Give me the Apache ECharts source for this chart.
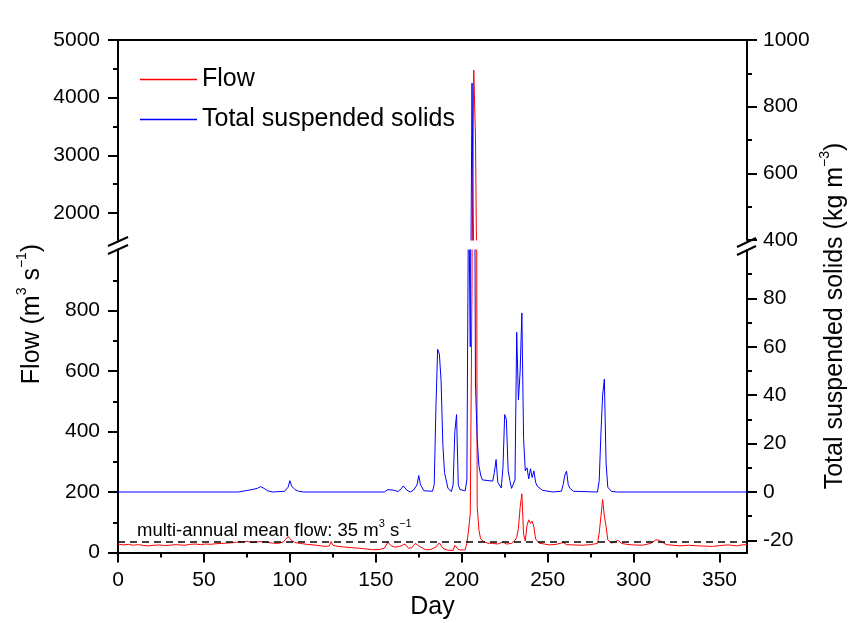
<!DOCTYPE html>
<html><head><meta charset="utf-8">
<script src="https://cdn.jsdelivr.net/npm/echarts@6/dist/echarts.min.js"></script>
<style>html,body{margin:0;padding:0;background:#fff}#c{width:852px;height:623px}</style>
</head><body><div id="c"></div>
<script>
// ---- data ----
const dayTicks = [0, 50, 100, 150, 200, 250, 300, 350];
const dayMinorTicks = [25, 75, 125, 175, 225, 275, 325];
const flowTicksLow = [0, 200, 400, 600, 800];
const flowMinorLow = [100, 300, 500, 700, 900];
const flowTicksHigh = [2000, 3000, 4000, 5000];
const flowMinorHigh = [2500, 3500, 4500];
const tssTicksLow = [-20, 0, 20, 40, 60, 80];
const tssMinorLow = [-10, 10, 30, 50, 70, 90];
const tssTicksHigh = [400, 600, 800, 1000];
const tssMinorHigh = [500, 700, 900];
const meanFlow = 35;

const flowDays = [0,3,6,9,12,15,18,21,24,27,30,33,36,39,42,45,48,51,54,57,60,63,66,69,72,75,78,81,84,87,90,93,96,99,101,103,106,110,114,118,121,123,124,125,128,132,136,140,144,148,152,155,157,159,161,164,167,169,171,173,175,177,179,182,185,187,189,191,193,195,196,198,200,202,203,204,205,206,207,208,209,210,211,213,215,218,221,224,226,229,231,232,233,234,235,236,237,238,239,240,241,242,243,245,248,251,255,259,261,265,270,275,279,280,281,282,283,284,285,287,289,291,293,296,300,305,310,313,315,317,319,323,327,332,337,342,346,350,355,360,363,366];
const flowValues = [28,25,27,24,26,23,22,24,25,23,24,26,25,24,27,28,26,28,27,29,30,31,32,34,35,37,33,35,36,33,31,30,34,53,40,33,30,27,25,22,20,22,36,24,20,18,16,14,12,9,10,14,34,22,18,20,28,14,16,30,22,15,9,10,18,32,14,9,7,7,24,10,8,9,30,75,130,900,4480,3330,155,75,45,35,31,30,28,35,28,30,40,50,80,150,194,60,38,90,108,96,104,85,45,31,28,25,27,33,26,25,24,26,30,64,119,175,120,86,42,31,35,40,30,27,25,24,30,42,40,33,26,24,22,24,22,21,20,23,25,22,25,26];

const tssDays = [0,70,74,78,81,83,84,85,87,90,97,99,100,101,103,105,108,155,157,158,160,163,165,166,168,170,172,174,175,176,178,183,184,185,186,187,188,189,190,192,194,195,196,197,198,199,202,203,204,205,206,207,208,209,210,211,212,218,219,220,221,223,224,225,226,227,228,229,230,231,232,233,234,235,236,237,238,239,240,241,242,243,244,247,253,258,259,260,261,262,263,265,279,280,281,282,283,284,285,287,290,366];
const tssValues = [0,0,0.5,1,1.5,2.2,2.7,1.5,0.5,0,0.3,2,4.7,2.5,1,0.3,0,0,1,1.5,0.8,0.2,1.5,2.5,0.8,0,0.8,3,6.8,3,0.5,0.3,3,35,59,57,46,20,8,1.5,0.2,3,25,32,3,1,0.5,5,130,60,871,250,45,22,11,7,5,4.5,8,13.4,4,1.7,10,32,30,9,4.8,1.5,0.7,5,66,38,50,74,22,8.7,10,5.4,9.6,6,8.7,4,2.4,0.7,0,0.3,3,7,8.6,3,1.5,0.3,0,4.6,24,40,46.7,12,2,0.3,0,0];

// ---- chart ----
const F = "'Liberation Sans', Arial, sans-serif";
const flowData = flowDays.map((d, i) => [d, flowValues[i]]);
const tssData = tssDays.map((d, i) => [d, tssValues[i]]);
const BLACK = '#000';
const RED = '#ff0000';
const BLUE = '#0000ff';
const plain = v => String(v);

function yAx(grid, pos, min, max, vals, minor) {
  return {
    type: 'value', gridIndex: grid, position: pos, min: min, max: max,
    axisLine: { show: !minor, onZero: false, lineStyle: { color: BLACK, width: 2 } },
    axisTick: { show: true, inside: false, length: minor ? 5 : 10, customValues: vals,
                lineStyle: { color: BLACK, width: 2 } },
    axisLabel: minor ? { show: false } : { show: true, customValues: vals, formatter: plain,
                margin: pos === 'left' ? 18 : 16, fontSize: 21, fontFamily: F, color: BLACK },
    splitLine: { show: false }
  };
}

const chart = echarts.init(document.getElementById('c'), null, { renderer: 'canvas' });
const sup = { fontSize: 14, fontFamily: F, fill: BLACK, verticalAlign: 'top', lineHeight: 14 };
const norm = { fontSize: 25, fontFamily: F, fill: BLACK, verticalAlign: 'bottom', lineHeight: 30 };
chart.setOption({
  animation: false,
  backgroundColor: '#fff',
  grid: [
    { left: 118, right: 105, top: 40, height: 200 },
    { left: 118, right: 105, top: 250, height: 302.5 }
  ],
  legend: {
    orient: 'vertical', left: 135, top: 62, itemWidth: 57, itemHeight: 1.5, itemGap: 15,
    textStyle: { fontSize: 25, fontFamily: F, color: BLACK },
    data: [
      { name: 'Flow', icon: 'rect', itemStyle: { color: RED } },
      { name: 'Total suspended solids', icon: 'rect', itemStyle: { color: BLUE } }
    ]
  },
  xAxis: [
    { type: 'value', gridIndex: 0, position: 'top', min: 0, max: 366,
      axisLine: { show: true, onZero: false, lineStyle: { color: BLACK, width: 2 } },
      axisTick: { show: false }, axisLabel: { show: false }, splitLine: { show: false } },
    { type: 'value', gridIndex: 1, position: 'bottom', min: 0, max: 366,
      name: 'Day', nameLocation: 'middle', nameGap: 42,
      nameTextStyle: { fontSize: 25, fontFamily: F, color: BLACK },
      axisLine: { show: true, onZero: false, lineStyle: { color: BLACK, width: 2 } },
      axisTick: { show: true, length: 10, customValues: dayTicks, lineStyle: { color: BLACK, width: 2 } },
      axisLabel: { show: true, customValues: dayTicks, formatter: plain, margin: 17, fontSize: 21, fontFamily: F, color: BLACK },
      splitLine: { show: false } },
    { type: 'value', gridIndex: 1, position: 'bottom', min: 0, max: 366,
      axisLine: { show: false, onZero: false },
      axisTick: { show: true, length: 5, customValues: dayMinorTicks, lineStyle: { color: BLACK, width: 2 } },
      axisLabel: { show: false }, splitLine: { show: false } }
  ],
  yAxis: [
    yAx(0, 'left', 1530, 5000, flowTicksHigh, false),
    yAx(0, 'left', 1530, 5000, flowMinorHigh, true),
    yAx(0, 'right', 400, 1000, tssTicksHigh, false),
    yAx(0, 'right', 400, 1000, tssMinorHigh, true),
    yAx(1, 'left', 0, 1000, flowTicksLow, false),
    yAx(1, 'left', 0, 1000, flowMinorLow, true),
    yAx(1, 'right', -25, 100, tssTicksLow, false),
    yAx(1, 'right', -25, 100, tssMinorLow, true)
  ],
  series: [
    { type: 'line', name: 'Flow', xAxisIndex: 0, yAxisIndex: 0, data: flowData, symbol: 'none',
      lineStyle: { color: RED, width: 1 }, itemStyle: { color: RED }, clip: true },
    { type: 'line', name: 'Flow', xAxisIndex: 1, yAxisIndex: 4, data: flowData, symbol: 'none',
      lineStyle: { color: RED, width: 1 }, itemStyle: { color: RED }, clip: true,
      markLine: { silent: true, symbol: ['none', 'none'], label: { show: false },
        lineStyle: { type: [7, 5], color: BLACK, width: 1.5 }, data: [{ yAxis: meanFlow }] } },
    { type: 'line', name: 'Total suspended solids', xAxisIndex: 0, yAxisIndex: 2, data: tssData, symbol: 'none',
      lineStyle: { color: BLUE, width: 1 }, itemStyle: { color: BLUE }, clip: true },
    { type: 'line', name: 'Total suspended solids', xAxisIndex: 1, yAxisIndex: 6, data: tssData, symbol: 'none',
      lineStyle: { color: BLUE, width: 1 }, itemStyle: { color: BLUE }, clip: true }
  ],
  graphic: [
    { type: 'text', x: 30, y: 314, rotation: Math.PI / 2,
      style: { text: '{a|Flow (m}{s|3}{a| s}{s|−1}{a|)}', rich: { a: norm, s: sup },
               align: 'center', verticalAlign: 'middle', textAlign: 'center', textVerticalAlign: 'middle' } },
    { type: 'text', x: 833, y: 316, rotation: Math.PI / 2,
      style: { text: '{a|Total suspended solids (kg m}{s|−3}{a|)}', rich: { a: norm, s: sup },
               align: 'center', verticalAlign: 'middle', textAlign: 'center', textVerticalAlign: 'middle' } },
    { type: 'text', x: 137, y: 529,
      style: { text: '{a|multi-annual mean flow: 35 m}{s|3}{a| s}{s|−1}',
               rich: { a: { fontSize: 18.5, fontFamily: F, fill: BLACK, verticalAlign: 'bottom', lineHeight: 22 },
                       s: { fontSize: 11, fontFamily: F, fill: BLACK, verticalAlign: 'top', lineHeight: 11 } },
               align: 'left', verticalAlign: 'middle', textAlign: 'left', textVerticalAlign: 'middle' } },
    { type: 'line', shape: { x1: 108, y1: 246, x2: 128, y2: 237 }, style: { stroke: BLACK, lineWidth: 2 } },
    { type: 'line', shape: { x1: 108, y1: 254, x2: 128, y2: 245 }, style: { stroke: BLACK, lineWidth: 2 } },
    { type: 'line', shape: { x1: 737, y1: 247, x2: 756, y2: 238 }, style: { stroke: BLACK, lineWidth: 2 } },
    { type: 'line', shape: { x1: 737, y1: 255, x2: 756, y2: 246 }, style: { stroke: BLACK, lineWidth: 2 } }
  ]
});
</script></body></html>
